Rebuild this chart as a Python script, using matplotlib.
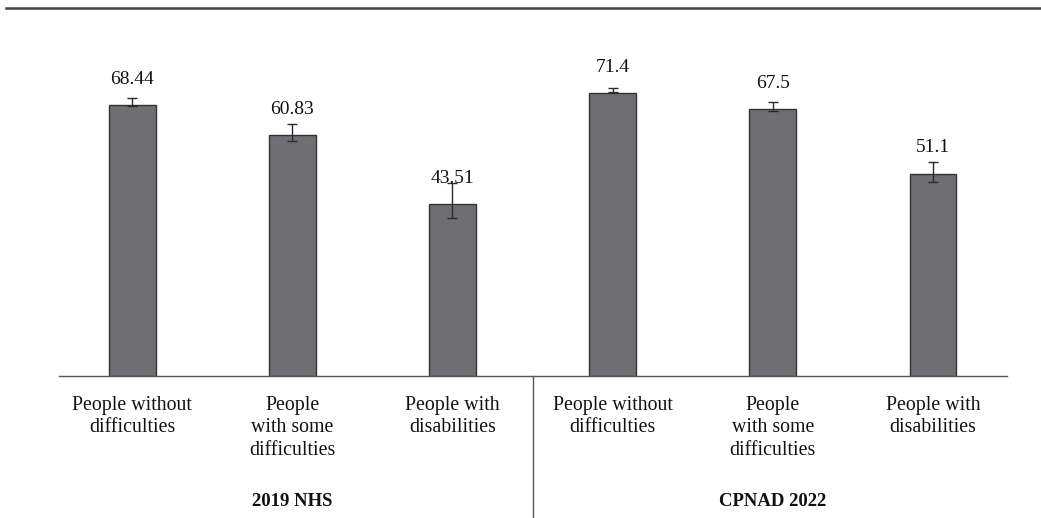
import matplotlib.pyplot as plt
from matplotlib.lines import Line2D

# Data
categories = ["People without\ndifficulties", "People\nwith some\ndifficulties", "People with\ndisabilities",
              "People without\ndifficulties", "People\nwith some\ndifficulties", "People with\ndisabilities"]
values = [68.44, 60.83, 43.51, 71.4, 67.5, 51.1]
value_labels = ["68.44", "60.83", "43.51", "71.4", "67.5", "51.1"]
ci_low = [68.1, 59.3, 39.8, 71.8, 66.9, 49.1]
ci_high = [70.1, 63.6, 48.7, 72.65, 69.3, 54.0]
groups = ["2019 NHS", "CPNAD 2022"]

W, H = 1041, 518
plt.rcParams['font.family'] = ['Liberation Serif', 'DejaVu Serif']

fig = plt.figure(figsize=(W / 100, H / 100), dpi=100)
ax_h = 346
ax = fig.add_axes([59 / W, (H - 376) / H, (1007 - 59) / W, ax_h / H])

x = list(range(len(values)))
ax.bar(x, values, width=0.293, color='#6f6e73', edgecolor='#333333', linewidth=1, zorder=2)

# error bars (caps drawn by hand, intervals are not centred on the bars)
cap = 0.031
ax.vlines(x, ci_low, ci_high, color='#2b2b2b', linewidth=1, zorder=3)
ax.hlines(ci_low, [i - cap for i in x], [i + cap for i in x], color='#2b2b2b', linewidth=1, zorder=3)
ax.hlines(ci_high, [i - cap for i in x], [i + cap for i in x], color='#2b2b2b', linewidth=1, zorder=3)

for i, (v, lab) in enumerate(zip(values, value_labels)):
    ax.annotate(lab, (i, v), xytext=(0, 18.5), textcoords='offset points',
                ha='center', va='center', fontsize=14, color='#111111')

ax.set_xlim(-0.456, 5.462)
ax.set_ylim(0, ax_h / 3.96)
for s in ['top', 'right', 'left']:
    ax.spines[s].set_visible(False)
ax.spines['bottom'].set_color('#555555')
ax.spines['bottom'].set_linewidth(1)
ax.set_xticks([])
ax.set_yticks([])

# category labels under the bars
for i, c in enumerate(categories):
    ax.text(i, -20 / ax_h, c, transform=ax.get_xaxis_transform(), ha='center', va='top',
            fontsize=14.3, color='#111111', linespacing=1.25)

# group labels
for gx, g in zip([1, 4], groups):
    ax.text(gx, -126 / ax_h, g, transform=ax.get_xaxis_transform(), ha='center', va='center',
            fontsize=13.5, fontweight='bold', color='#111111')

# divider between the two surveys
ax.plot([2.5, 2.5], [0, -142 / ax_h], transform=ax.get_xaxis_transform(),
        color='#555555', linewidth=1, clip_on=False)

# rule across the top
fig.add_artist(Line2D([6 / W, 1], [1 - 7.5 / H, 1 - 7.5 / H], color='#444444', linewidth=1.8))

fig.savefig('out.png', dpi=100)
